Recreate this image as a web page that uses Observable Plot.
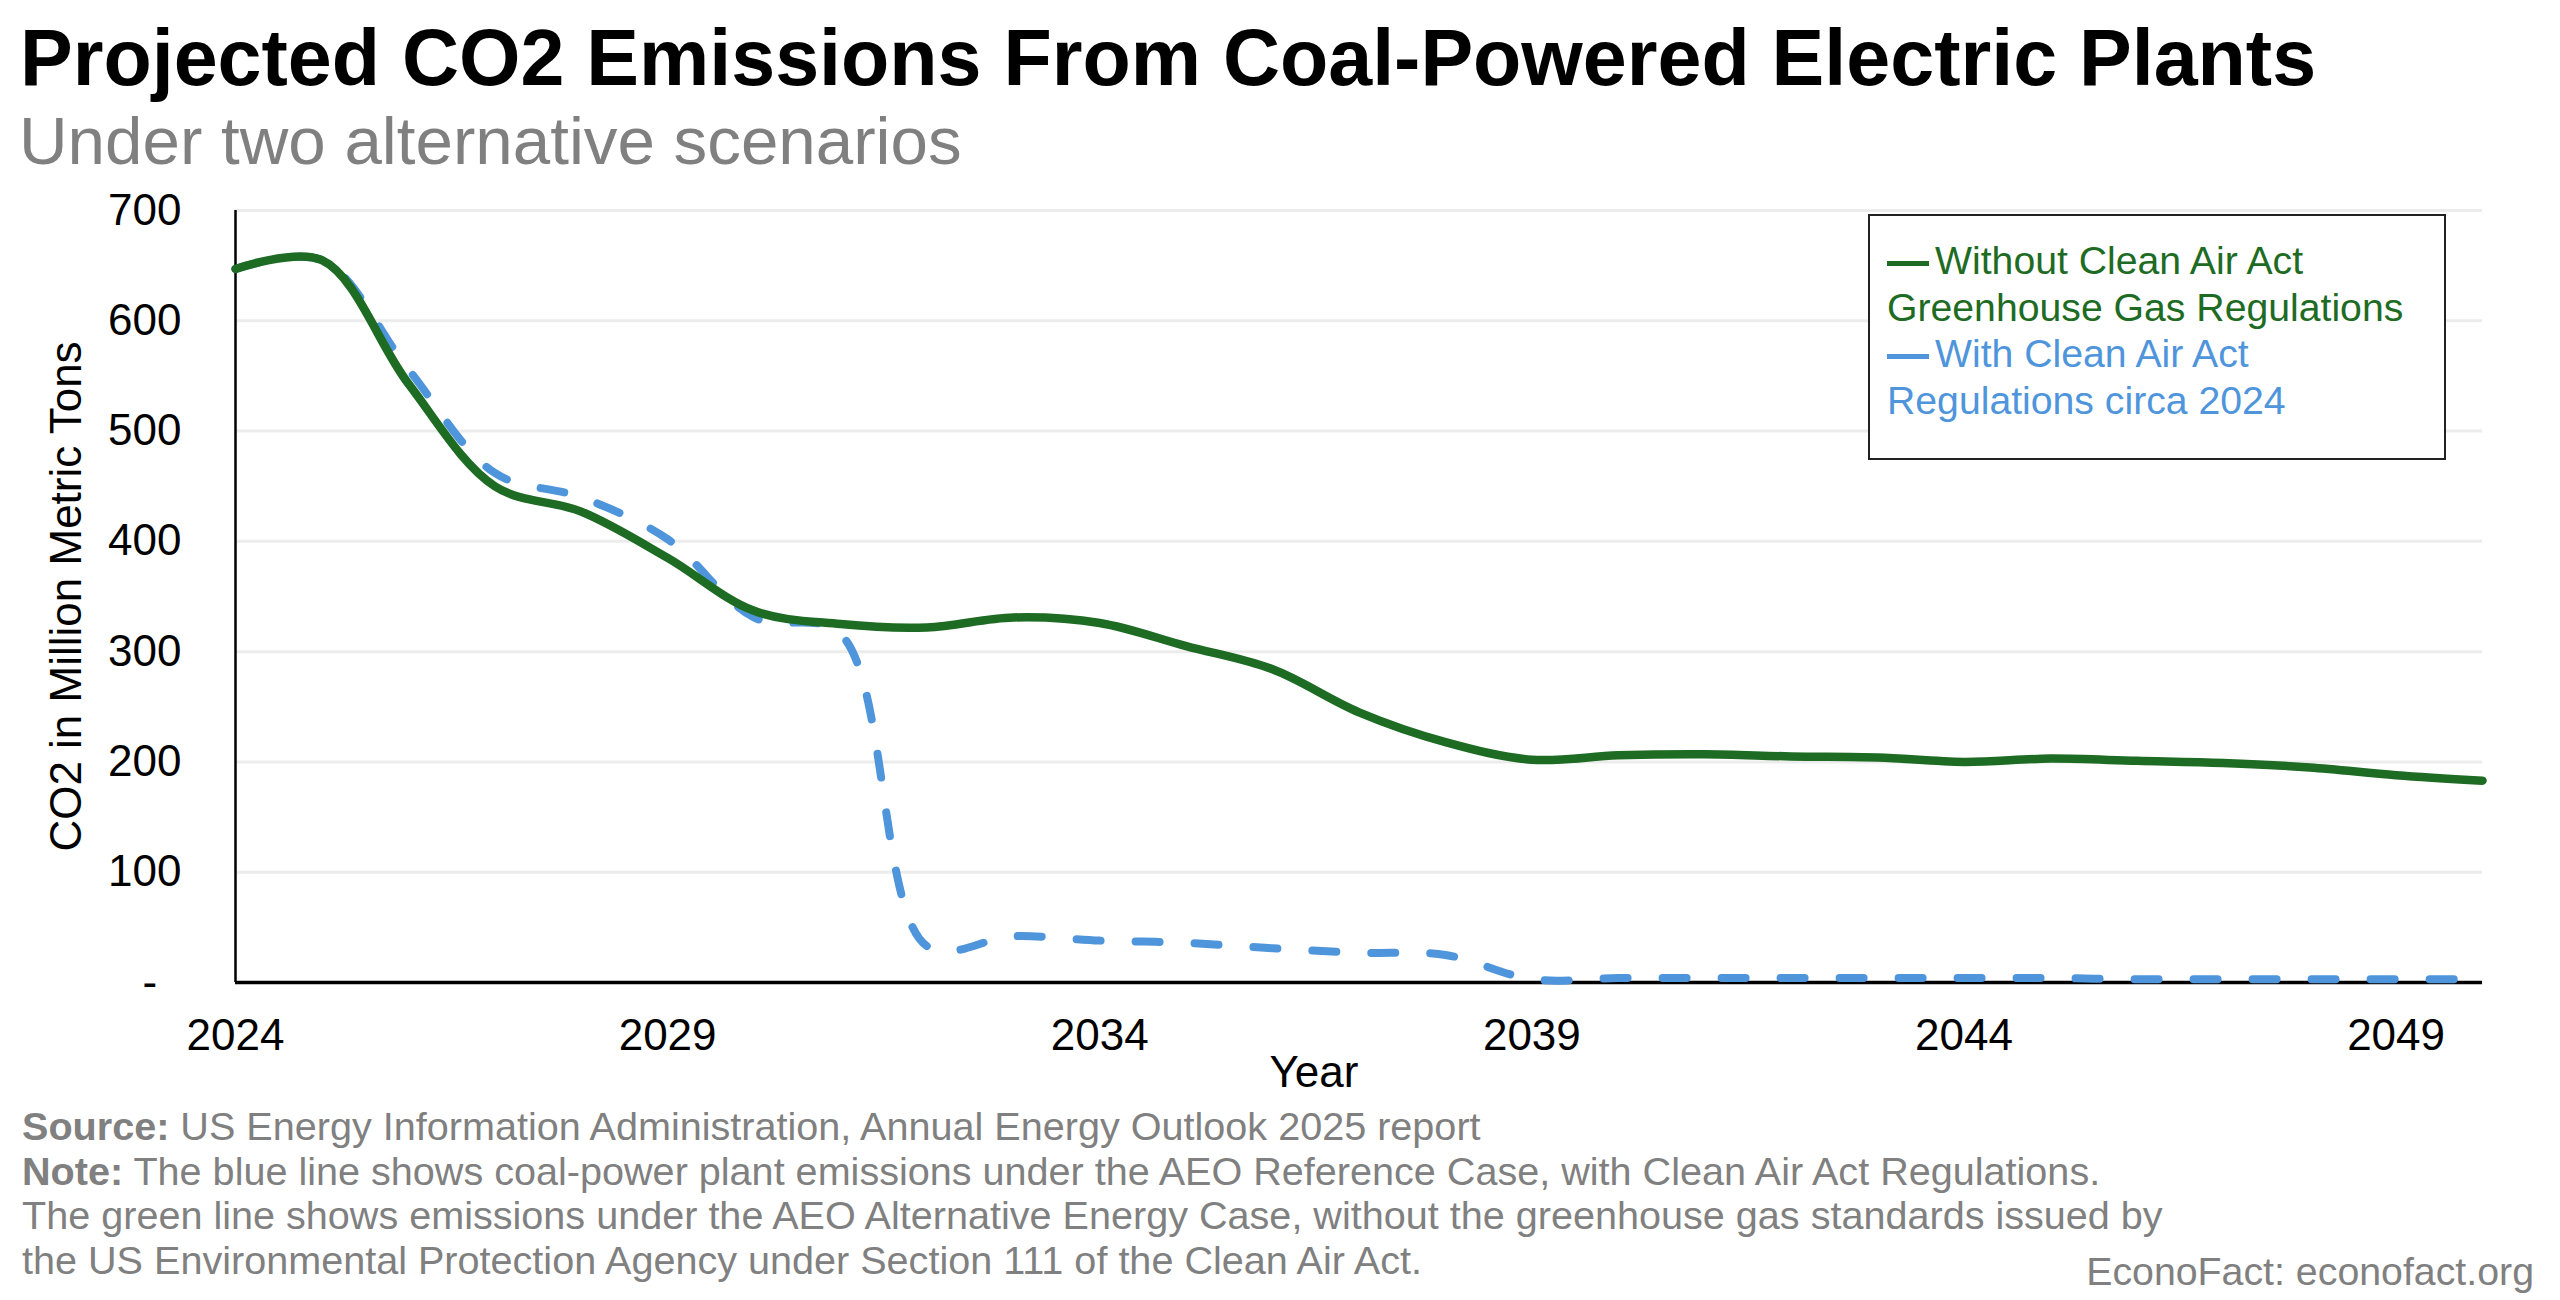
<!DOCTYPE html>
<html>
<head>
<meta charset="utf-8">
<script src="https://cdn.jsdelivr.net/npm/d3@7"></script>
<script src="https://cdn.jsdelivr.net/npm/@observablehq/plot@0.6"></script>
<style>
  html, body { margin: 0; padding: 0; background: #fff; }
  #page { position: relative; width: 2560px; height: 1300px; font-family: "Liberation Sans", Arial, Helvetica, sans-serif; overflow: hidden; }
  #title { position: absolute; left: 20px; top: 18px; font-size: 79px; line-height: 1; font-weight: bold; color: #000; white-space: nowrap; }
  #subtitle { position: absolute; left: 19px; top: 107px; font-size: 67.3px; line-height: 1; color: #808080; white-space: nowrap; }
  #chart { position: absolute; left: 0; top: 180px; }
  #legend { position: absolute; left: 1868px; top: 214px; width: 578px; height: 246px; box-sizing: border-box; border: 2px solid #222; background: #fff; padding: 22px 0 0 17px; font-size: 39.2px; line-height: 46.7px; white-space: nowrap; }
  #legend .sw { display: inline-block; width: 42px; height: 5px; vertical-align: 8px; margin-right: 6px; }
  #footer { position: absolute; left: 22px; top: 1104px; font-size: 39.6px; line-height: 44.5px; color: #808080; white-space: nowrap; }
  #credit { position: absolute; right: 26px; top: 1251.5px; font-size: 39.3px; line-height: 1; color: #808080; white-space: nowrap; }
</style>
</head>
<body>
<div id="page">
  <div id="title">Projected CO2 Emissions From Coal-Powered Electric Plants</div>
  <div id="subtitle">Under two alternative scenarios</div>
  <div id="chart"></div>
  <div id="legend"></div>
  <div id="footer">
    <div><b>Source:</b> US Energy Information Administration, Annual Energy Outlook 2025 report</div>
    <div><b>Note:</b> The blue line shows coal-power plant emissions under the AEO Reference Case, with Clean Air Act Regulations.</div>
    <div>The green line shows emissions under the AEO Alternative Energy Case, without the greenhouse gas standards issued by</div>
    <div>the US Environmental Protection Agency under Section 111 of the Clean Air Act.</div>
  </div>
  <div id="credit">EconoFact: econofact.org</div>
</div>
<script>
// ---- data ----
const years = [2024,2025,2026,2027,2028,2029,2030,2031,2032,2033,2034,2035,2036,2037,2038,2039,2040,2041,2042,2043,2044,2045,2046,2047,2048,2049,2050];
const withoutRegs = [647,655,543,450,427,385,337,325,322,331,326,305,284,245,218,202,206,207,205,204,200,203,201,199,195,188,183];
const withRegs    = [647,655,556,462,440,402,331,316,33,42,38,36,31,27,25,3,4,4,4,4,4,4,3,3,3,3,3];
const xTicks = [2024,2029,2034,2039,2044,2049];
const yTicks = [0,100,200,300,400,500,600,700];
const seriesNames = ["Without Clean Air Act|Greenhouse Gas Regulations", "With Clean Air Act|Regulations circa 2024"];
const seriesColors = ["#1e6b24", "#4f95dc"];
const yTitle = "CO2 in Million Metric Tons";
const xTitle = "Year";

const greenRows = years.map((y, i) => ({year: y, value: withoutRegs[i]}));
const blueRows = years.map((y, i) => ({year: y, value: withRegs[i]}));

const chart = Plot.plot({
  width: 2560,
  height: 920,
  marginLeft: 235,
  marginRight: 78,
  marginTop: 30,
  marginBottom: 118,
  style: {fontFamily: '"Liberation Sans", Arial, Helvetica, sans-serif', color: "#000", background: "transparent", overflow: "visible"},
  x: {domain: [2024, 2050]},
  y: {domain: [0, 700]},
  marks: [
    Plot.gridY(yTicks.filter(d => d > 0), {stroke: "#ececec", strokeOpacity: 1, strokeWidth: 3}),
    Plot.axisY({ticks: yTicks, tickSize: 0, tickPadding: 54, fontSize: 44, label: null,
      tickFormat: d => d === 0 ? "-\u00a0\u00a0" : String(d)}),
    Plot.axisX({ticks: xTicks, tickSize: 0, tickPadding: 36, fontSize: 44, label: null,
      tickFormat: d => String(d)}),
    Plot.ruleX([2024], {stroke: "#000", strokeWidth: 2.5}),
    Plot.ruleY([0], {stroke: "#000", strokeWidth: 3.5}),
    Plot.line(blueRows, {x: "year", y: "value", stroke: seriesColors[1], strokeWidth: 8,
      strokeDasharray: "24,35", strokeLinecap: "round", curve: "catmull-rom"}),
    Plot.line(greenRows, {x: "year", y: "value", stroke: seriesColors[0], strokeWidth: 8.5,
      strokeLinecap: "round", curve: "catmull-rom"}),
    Plot.text([yTitle], {frameAnchor: "left", text: d => d, dx: -169, rotate: -90, textAnchor: "middle", lineAnchor: "middle", fontSize: 44, fill: "#000"}),
    Plot.text([xTitle], {frameAnchor: "bottom", text: d => d, dx: -45, dy: 104, lineAnchor: "bottom", textAnchor: "middle", fontSize: 44, fill: "#000"})
  ]
});
document.getElementById("chart").appendChild(chart);

// legend
const legend = document.getElementById("legend");
seriesNames.forEach((name, i) => {
  const [l1, l2] = name.split("|");
  const a = document.createElement("div");
  a.style.color = seriesColors[i];
  const sw = document.createElement("span");
  sw.className = "sw";
  sw.style.background = seriesColors[i];
  a.appendChild(sw);
  a.appendChild(document.createTextNode(l1));
  const b = document.createElement("div");
  b.style.color = seriesColors[i];
  b.textContent = l2;
  legend.appendChild(a);
  legend.appendChild(b);
});
</script>
</body>
</html>
